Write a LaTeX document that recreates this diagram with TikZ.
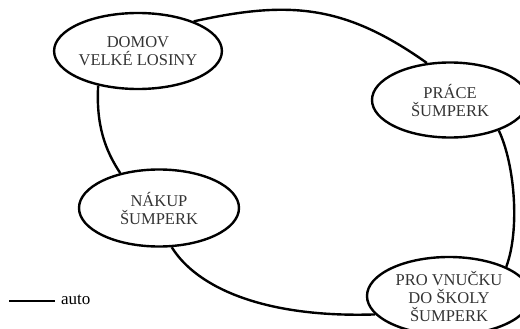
\documentclass[tikz,border=0pt]{standalone}
\usepackage{fontspec}
\setmainfont{Liberation Serif}
\usetikzlibrary{shapes.geometric}

\begin{document}
\begin{tikzpicture}[x=1pt,y=-1pt,
    place/.style={ellipse,draw,line width=2.4pt,inner sep=0pt,align=center,
      font=\fontsize{16.5}{18}\selectfont,text=black!80},
    route/.style={line width=2.4pt}]
  \useasboundingbox (0,0) rectangle (520,329);
  % places
  \node[place,minimum width=160pt,minimum height=76pt](domov)at(138,51){DOMOV\\VELKÉ LOSINY};
  \node[place,minimum width=156pt,minimum height=75pt](prace)at(450,100){PRÁCE\\ŠUMPERK};
  \node[place,minimum width=160pt,minimum height=77pt](nakup)at(159,208){NÁKUP\\ŠUMPERK};
  \node[place,minimum width=164pt,minimum height=78pt](vnucka)at(449,296){PRO VNUČKU\\DO ŠKOLY\\ŠUMPERK};
  % routes
  \draw[route](domov.28) .. controls (290,0) and (345,5) .. (prace.122);
  \draw[route](domov.221) .. controls (96,125) and (105,150) .. (nakup.138);
  \draw[route](nakup.288) .. controls (197,288) and (265,318) .. (vnucka.194);
  \draw[route](prace.328) .. controls (515,165) and (520,230) .. (vnucka.27);
  % legend
  \coordinate (legstart) at (9,301);
  \coordinate (legend) at (55,301);
  \draw[route](legstart)--(legend);
  \node[anchor=base west,inner sep=0pt,font=\fontsize{17}{20}\selectfont](autolbl)at(61,304){auto};
\end{tikzpicture}
\end{document}
